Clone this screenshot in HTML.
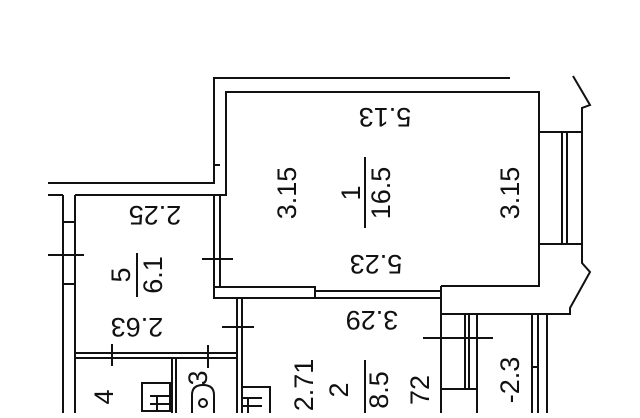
<!DOCTYPE html>
<html><head><meta charset="utf-8"><style>
body{margin:0;background:#fff;width:640px;height:413px;overflow:hidden}
svg text{font-family:"Liberation Sans",sans-serif;fill:#111;font-size:27px}
</style></head><body>
<svg width="640" height="413" viewBox="0 0 640 413" xmlns="http://www.w3.org/2000/svg">
<g stroke="#111" stroke-width="2" fill="none">
<polyline points="48,183 214,183 214,78 510,78"/>
<polyline points="75,195 226,195 226,92 539,92 539,286 441,286"/>
<line x1="48" y1="195" x2="63" y2="195"/>
<line x1="63" y1="195" x2="63" y2="413"/>
<line x1="75" y1="195" x2="75" y2="413"/>
<line x1="63" y1="222" x2="75" y2="222"/>
<line x1="63" y1="284" x2="75" y2="284"/>
<line x1="48" y1="255" x2="84" y2="255"/>
<line x1="214" y1="195" x2="214" y2="287"/>
<line x1="220" y1="195" x2="220" y2="287"/>
<line x1="214" y1="165" x2="220" y2="165"/>
<line x1="202" y1="259" x2="233" y2="259"/>
<rect x="214" y="287" width="101" height="11"/>
<line x1="315" y1="291" x2="441" y2="291"/>
<line x1="315" y1="298" x2="441" y2="298"/>
<line x1="237" y1="298" x2="237" y2="413"/>
<line x1="242" y1="298" x2="242" y2="413"/>
<line x1="222" y1="327" x2="254" y2="327"/>
<line x1="75" y1="353" x2="237" y2="353"/>
<line x1="75" y1="358" x2="237" y2="358"/>
<line x1="112" y1="344" x2="112" y2="366"/>
<line x1="208" y1="345" x2="208" y2="368"/>
<line x1="172" y1="358" x2="172" y2="413"/>
<line x1="176" y1="358" x2="176" y2="413"/>
<rect x="142" y="383" width="28" height="28"/>
<path d="M150,396 h20 M150,404 h20 M157,396 v15"/>
<rect x="242" y="387" width="28" height="30"/>
<path d="M242,398 h20 M242,406 h20 M248,398 v15"/>
<circle cx="203" cy="403" r="4"/>
<path d="M192,413 v-18 q0,-10 11,-10 q11,0 11,10 v18"/>
<line x1="441" y1="286" x2="441" y2="413"/>
<polyline points="441,314 570,314 570,308 590,272 582,263 582,108 590,105 573,76"/>
<line x1="465" y1="314" x2="465" y2="389"/>
<line x1="469" y1="314" x2="469" y2="389"/>
<line x1="477" y1="314" x2="477" y2="413"/>
<line x1="441" y1="389" x2="477" y2="389"/>
<line x1="423" y1="338" x2="493" y2="338"/>
<line x1="532" y1="314" x2="532" y2="413"/>
<line x1="538" y1="314" x2="538" y2="413"/>
<line x1="547" y1="314" x2="547" y2="413"/>
<line x1="532" y1="367" x2="538" y2="367"/>
<line x1="539" y1="132" x2="582" y2="132"/>
<line x1="539" y1="244" x2="582" y2="244"/>
<line x1="562" y1="132" x2="562" y2="244"/>
<line x1="567" y1="132" x2="567" y2="244"/>
<line x1="365" y1="157" x2="365" y2="228"/>
<line x1="137" y1="253" x2="137" y2="297"/>
<line x1="365" y1="360" x2="365" y2="413"/>
</g>
<g text-anchor="middle" dominant-baseline="central">
<text transform="translate(385,117) rotate(180)">5.13</text>
<text transform="translate(376,264) rotate(180)">5.23</text>
<text transform="translate(155,215) rotate(180)">2.25</text>
<text transform="translate(137,327) rotate(180)">2.63</text>
<text transform="translate(372,320) rotate(180)">3.29</text>
<text transform="translate(287,193) rotate(-90)">3.15</text>
<text transform="translate(510,193) rotate(-90)">3.15</text>
<text transform="translate(351,193) rotate(-90)">1</text>
<text transform="translate(381,193) rotate(-90)">16.5</text>
<text transform="translate(121,275) rotate(-90)">5</text>
<text transform="translate(153,275) rotate(-90)">6.1</text>
<text transform="translate(304,385) rotate(-90)">2.71</text>
<text transform="translate(339,390) rotate(-90)">2</text>
<text transform="translate(379,390) rotate(-90)">8.5</text>
<text transform="translate(420,390) rotate(-90)">72</text>
<text transform="translate(510,380) rotate(-90)">-2.3</text>
<text transform="translate(104,397) rotate(-90)">4</text>
<text transform="translate(198,378) rotate(-90)">3</text>
</g>
</svg>
</body></html>
